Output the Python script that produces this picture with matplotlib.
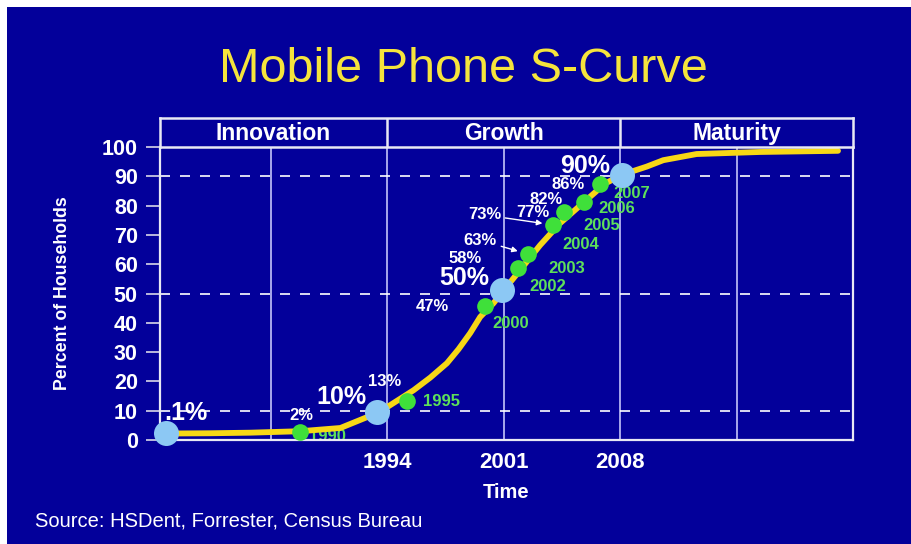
import matplotlib
matplotlib.use("Agg")
import matplotlib.pyplot as plt
from matplotlib.patches import Rectangle

plt.rcParams['font.family'] = ['Liberation Sans', 'DejaVu Sans']

# S-curve (x in years, y in percent of households)
curve_years = [1980.5, 1983.4, 1985.8, 1988.8, 1991.2, 1992.8, 1994.0, 1995.6,
               1996.6, 1997.6, 1998.3, 1999.0, 1999.6, 2000.4, 2001.0, 2002.0,
               2003.2, 2004.4, 2005.9, 2007.1, 2008.1, 2009.6, 2010.6, 2012.6,
               2016.4, 2021.1]
curve_vals = [2.2, 2.3, 2.5, 3.0, 4.1, 7.8, 11.2, 17.0, 21.3, 26.2, 31.0, 36.5,
              42.0, 46.7, 51.0, 58.0, 66.5, 74.0, 81.5, 87.5, 90.5, 93.3, 95.5,
              97.6, 98.3, 98.7]

# big blue milestone markers
mile_years = [1980.7, 1993.4, 2000.9, 2008.1]
mile_vals = [2.3, 9.7, 51.2, 90.4]
mile_labels = [".1%", "10%", "50%", "90%"]

# small green yearly markers
pt_years = [1988.8, 1995.2, 1999.9, 2001.9, 2002.5, 2004.0, 2004.65, 2005.85, 2006.8]
pt_vals = [2.8, 13.4, 45.8, 58.6, 63.4, 73.4, 77.7, 81.1, 87.3]
pt_labels = ["2%", "13%", "47%", "58%", "63%", "73%", "77%", "82%", "86%"]
pt_year_labels = ["1990", "1995", "2000", "2002", "2003", "2004", "2005", "2006", "2007"]

phases = ["Innovation", "Growth", "Maturity"]
phase_edges = [1980.36, 1994, 2008, 2022]
grid_years = [1987, 1994, 2001, 2008, 2015]
xtick_years = [1994, 2001, 2008]
dash_levels = [10, 50, 90]

BG = "#03009a"
W = 912
H = 544

fig = plt.figure(figsize=(W / 100, H / 100), dpi=100, facecolor="white")
fig.patches.append(Rectangle((7 / W, 0), 1, 1 - 7 / H, transform=fig.transFigure,
                             facecolor=BG, edgecolor="none", zorder=-10))

left, right, bottom, top = 160 / W, 853 / W, 1 - 440 / H, 1 - 147 / H
ax = fig.add_axes([left, bottom, right - left, top - bottom])
ax.set_facecolor(BG)
ax.set_xlim(phase_edges[0], phase_edges[-1])
ax.set_ylim(0, 100)

for g in grid_years:
    ax.axvline(g, color="#a8a8ec", lw=1.4, zorder=1)
for lv in dash_levels:
    ax.axhline(lv, color="white", lw=1.2, dashes=(6, 6), zorder=1)

ax.plot(curve_years, curve_vals, color="#f7d816", lw=4.2, solid_capstyle="round",
        solid_joinstyle="round", zorder=3)
ax.plot(pt_years, pt_vals, "o", color="#3fe03a", ms=12, mec="none", zorder=4)
ax.plot(mile_years, mile_vals, "o", color="#8cc8f4", ms=18, mec="none", zorder=5,
        clip_on=False)

# label offsets in pixels from each marker
mile_off = [(20, 20), (-36, 15), (-38, 12), (-37, 9)]
pt_off = [(1, 16), (-22, 19), (-53, -1), (-53, 10), (-48, 14), (-69, 10),
          (-31, 0), (-38, 3), (-32, 0)]
yr_off = [(27, -5), (35, -1), (25, -18), (29, -18), (38, -14), (27, -20),
          (37, -13), (33, -6), (32, -9)]
arrow_idx = [4, 5]

for x, y, lab, off in zip(mile_years, mile_vals, mile_labels, mile_off):
    ax.annotate(lab, (x, y), xytext=off, textcoords="offset pixels",
                ha="center", va="center", color="white", fontsize=18,
                fontweight="bold", zorder=6)

for i, (x, y, lab, off) in enumerate(zip(pt_years, pt_vals, pt_labels, pt_off)):
    if i in arrow_idx:
        ax.annotate(lab, (x, y), xytext=off, textcoords="offset pixels",
                    ha="center", va="center", color="white", fontsize=12,
                    fontweight="bold", zorder=6,
                    arrowprops=dict(arrowstyle="-|>", color="white", lw=1,
                                    shrinkA=1, shrinkB=8, mutation_scale=8))
    else:
        ax.annotate(lab, (x, y), xytext=off, textcoords="offset pixels",
                    ha="center", va="center", color="white", fontsize=12,
                    fontweight="bold", zorder=6)

for x, y, lab, off in zip(pt_years, pt_vals, pt_year_labels, yr_off):
    ax.annotate(lab, (x, y), xytext=off, textcoords="offset pixels",
                ha="center", va="center", color="#5ee05a", fontsize=12,
                fontweight="bold", zorder=2, annotation_clip=False).set_clip_on(True)

# axes styling
ax.spines["top"].set_visible(False)
for s in ["left", "bottom", "right"]:
    ax.spines[s].set_color("#e8e8f4")
    ax.spines[s].set_linewidth(1.6)
ax.set_yticks(range(0, 101, 10))
ax.tick_params(axis="y", colors="#d8d8e8", length=10, width=1.2, pad=6,
               labelcolor="white", labelsize=15.5)
for t in ax.get_yticklabels():
    t.set_fontweight("bold")
ax.set_xticks(xtick_years)
ax.set_xticklabels([str(y) for y in xtick_years], fontsize=16, fontweight="bold",
                   color="white")
ax.tick_params(axis="x", length=0, pad=9)
ax.set_xlabel("Time", color="white", fontsize=14.5, fontweight="bold", labelpad=7)
ax.set_ylabel("Percent of Households", color="white", fontsize=12.8,
              fontweight="bold", labelpad=22)

# phase header band above the plot
hax = fig.add_axes([left, 1 - 147 / H, right - left, 29 / H], sharex=ax)
hax.set_facecolor(BG)
hax.set_ylim(0, 1)
for s in hax.spines.values():
    s.set_color("#e8e8f4")
    s.set_linewidth(1.8)
for e in phase_edges[1:-1]:
    hax.axvline(e, color="#e8e8f4", lw=1.8)
for name, a, b in zip(phases, phase_edges[:-1], phase_edges[1:]):
    hax.text((a + b) / 2, 0.47, name, ha="center", va="center", color="white",
             fontsize=16.5, fontweight="bold")
hax.tick_params(left=False, bottom=False, labelleft=False, labelbottom=False)

fig.text(463 / W, 1 - 69 / H, "Mobile Phone S-Curve", ha="center", va="center",
         color="#f5e43c", fontsize=35)
fig.text(35 / W, 1 - 521 / H, "Source: HSDent, Forrester, Census Bureau",
         ha="left", va="center", color="white", fontsize=14.5)

fig.savefig("out.png", dpi=100, facecolor=fig.get_facecolor())
